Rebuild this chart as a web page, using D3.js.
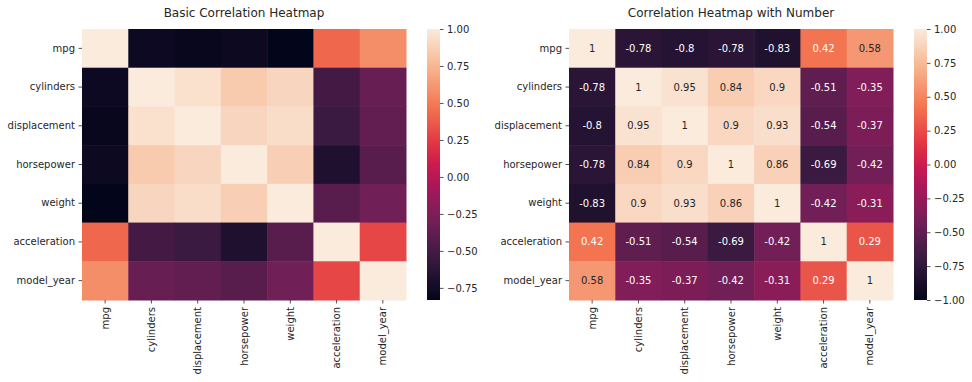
<!DOCTYPE html>
<html><head><meta charset="utf-8">
<script src="https://cdn.jsdelivr.net/npm/d3@7"></script>
<style>body{margin:0;background:#fff}svg{display:block}text{font-family:"DejaVu Sans",sans-serif;fill:#262626}</style>
</head><body><svg id="c" width="972" height="382"></svg>
<script>
const variables = ["mpg","cylinders","displacement","horsepower","weight","acceleration","model_year"];
const rowMpg          = [1.000, -0.775, -0.804, -0.778, -0.832,  0.420,  0.579];
const rowCylinders    = [-0.775, 1.000,  0.951,  0.843,  0.896, -0.505, -0.349];
const rowDisplacement = [-0.804, 0.951,  1.000,  0.897,  0.933, -0.544, -0.372];
const rowHorsepower   = [-0.778, 0.843,  0.897,  1.000,  0.865, -0.689, -0.416];
const rowWeight       = [-0.832, 0.896,  0.933,  0.865,  1.000, -0.417, -0.307];
const rowAcceleration = [0.420, -0.505, -0.544, -0.689, -0.417,  1.000,  0.288];
const rowModelYear    = [0.579, -0.349, -0.372, -0.416, -0.307,  0.288,  1.000];
const matrix = [rowMpg,rowCylinders,rowDisplacement,rowHorsepower,rowWeight,rowAcceleration,rowModelYear];
const titles = ["Basic Correlation Heatmap","Correlation Heatmap with Number"];
const cbTicksLeft = [-0.75,-0.5,-0.25,0,0.25,0.5,0.75,1];
const cbTicksRight = [-1,-0.75,-0.5,-0.25,0,0.25,0.5,0.75,1];

// rocket colormap stops
const rocketStops = [[0,"#03051a"],[1/7,"#35193e"],[2/7,"#701f57"],[3/7,"#ad1759"],[0.5,"#cb1b4f"],[4/7,"#e13342"],[5/7,"#f37651"],[6/7,"#f6b48f"],[1,"#faebdd"]];
const rocket = d3.scaleLinear().domain(rocketStops.map(d=>d[0])).range(rocketStops.map(d=>d[1])).interpolate(d3.interpolateRgb).clamp(true);

function lum(c){const r=d3.rgb(c);const f=v=>{v/=255;return v<=0.03928?v/12.92:Math.pow((v+0.055)/1.055,2.4)};return 0.2126*f(r.r)+0.7152*f(r.g)+0.0722*f(r.b);}

const svg = d3.select("#c");
const cells = [];
matrix.forEach((row,i)=>row.forEach((v,j)=>cells.push({r:variables[i],c:variables[j],v})));
const fmtAnn = v => d3.format(".2~g")(v).replace("\u2212","-");
const fmtCb = v => d3.format(".2f")(v).replace("-","\u2212").replace("\u2212","\u2212");

function panel(id, x0, x1, cbx, vmin, vmax, ticks, annotate, title){
  const y0=29, y1=300;
  const g = svg.append("g");
  const x = d3.scaleBand().domain(variables).range([x0,x1]);
  const y = d3.scaleBand().domain(variables).range([y0,y1]);
  const norm = d3.scaleLinear().domain([vmin,vmax]).range([0,1]);
  const col = v => rocket(norm(v));
  g.selectAll("rect.cell").data(cells).join("rect")
    .attr("x",d=>x(d.c)).attr("y",d=>y(d.r))
    .attr("width",x.bandwidth()+0.5).attr("height",y.bandwidth()+0.5)
    .attr("fill",d=>col(d.v));
  if(annotate){
    g.selectAll("text.ann").data(cells).join("text")
      .attr("x",d=>x(d.c)+x.bandwidth()/2).attr("y",d=>y(d.r)+y.bandwidth()/2)
      .attr("dy","0.35em").attr("text-anchor","middle").attr("font-size",10)
      .style("fill",d=>lum(col(d.v))>0.408?"#262626":"#ffffff")
      .text(d=>fmtAnn(d.v));
  }
  const ax = g.append("g").attr("transform",`translate(0,${y1})`)
    .call(d3.axisBottom(x).tickSize(3.5).tickPadding(3.5));
  ax.select(".domain").remove();
  ax.selectAll("line").attr("stroke","#262626").attr("stroke-width",0.8);
  ax.selectAll("text").attr("font-size",10).attr("transform","rotate(-90)")
    .attr("x",-7).attr("y",0).attr("dy","0.35em").attr("text-anchor","end");
  const ay = g.append("g").attr("transform",`translate(${x0},0)`)
    .call(d3.axisLeft(y).tickSize(3.5).tickPadding(3.5));
  ay.select(".domain").remove();
  ay.selectAll("line").attr("stroke","#262626").attr("stroke-width",0.8);
  ay.selectAll("text").attr("font-size",10);
  g.append("text").attr("x",(x0+x1)/2).attr("y",17).attr("text-anchor","middle")
    .attr("font-size",12).text(title);
  // colorbar
  const cbw = 13;
  const grad = svg.append("defs").append("linearGradient").attr("id",id)
    .attr("x1",0).attr("x2",0).attr("y1",1).attr("y2",0);
  d3.range(0,1.0001,0.02).forEach(t=>grad.append("stop").attr("offset",t).attr("stop-color",rocket(t)));
  g.append("rect").attr("x",cbx).attr("y",y0).attr("width",cbw).attr("height",y1-y0).attr("fill",`url(#${id})`);
  const cs = d3.scaleLinear().domain([vmin,vmax]).range([y1,y0]);
  const ac = g.append("g").attr("transform",`translate(${cbx+cbw},0)`)
    .call(d3.axisRight(cs).tickValues(ticks).tickFormat(fmtCb).tickSize(3.5).tickPadding(3.5));
  ac.select(".domain").remove();
  ac.selectAll("line").attr("stroke","#262626").attr("stroke-width",0.8);
  ac.selectAll("text").attr("font-size",10);
}
const vminL = d3.min(matrix.flat());
panel("gl",82,406,427,vminL,1,cbTicksLeft,false,titles[0]);
panel("gr",569,893,914,-1,1,cbTicksRight,true,titles[1]);
</script></body></html>
